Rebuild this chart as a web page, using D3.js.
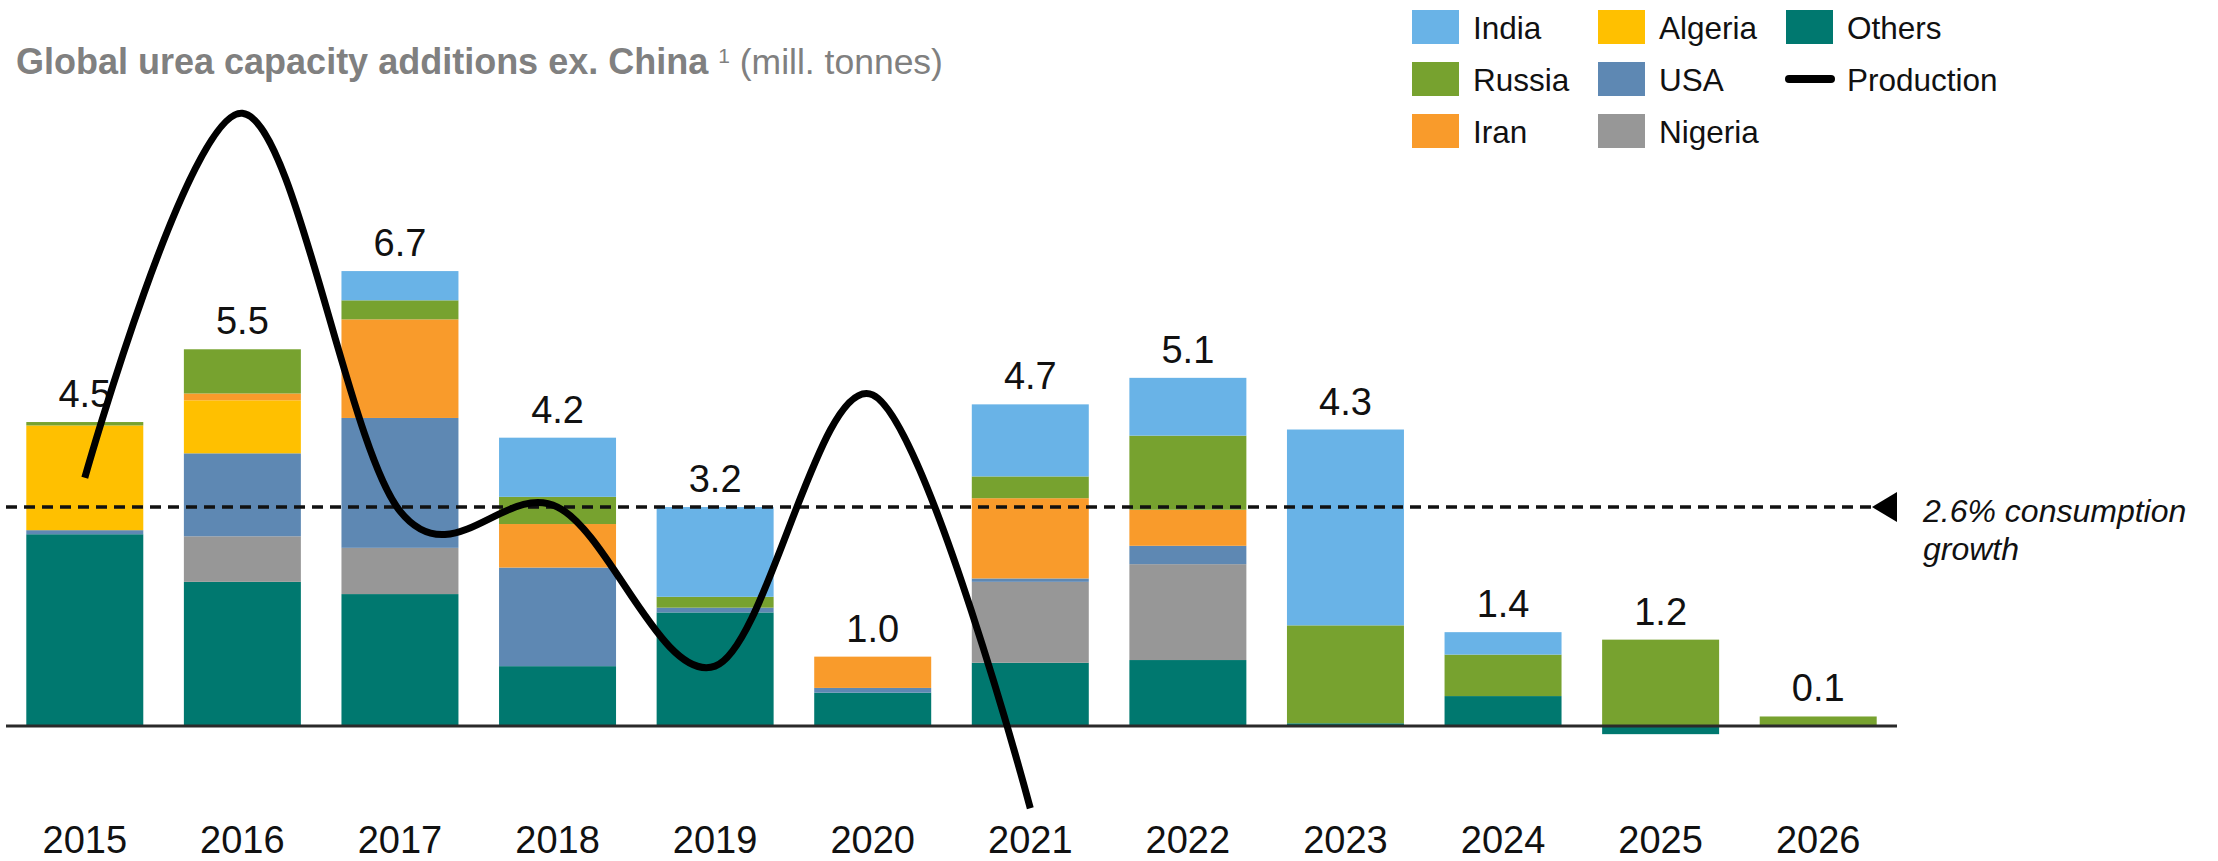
<!DOCTYPE html>
<html>
<head>
<meta charset="utf-8">
<script src="https://cdn.jsdelivr.net/npm/d3@7"></script>
<style>
  html, body { margin: 0; padding: 0; background: #ffffff; }
  svg { display: block; }
  text { font-family: "Liberation Sans", Arial, Helvetica, sans-serif; }
</style>
</head>
<body>
<svg id="chart" width="2218" height="861"></svg>
<script>
// ---------------- DATA ----------------
const years = ["2015","2016","2017","2018","2019","2020","2021","2022","2023","2024","2025","2026"];
// stack order bottom -> top
const seriesNames = ["Others","Nigeria","USA","Algeria","Iran","Russia","India"];
const others  = [2.82, 2.12, 1.94, 0.88, 1.67, 0.49, 0.93, 0.97, 0.04, 0.44, -0.12, 0.00];
const nigeria = [0.00, 0.67, 0.68, 0.00, 0.00, 0.00, 1.19, 1.41, 0.00, 0.00, 0.00, 0.00];
const usa     = [0.06, 1.22, 1.91, 1.45, 0.07, 0.07, 0.05, 0.27, 0.00, 0.00, 0.00, 0.00];
const algeria = [1.54, 0.78, 0.00, 0.00, 0.00, 0.00, 0.00, 0.00, 0.00, 0.00, 0.00, 0.00];
const iran    = [0.00, 0.10, 1.45, 0.64, 0.00, 0.46, 1.18, 0.53, 0.00, 0.00, 0.00, 0.00];
const russia  = [0.05, 0.65, 0.28, 0.40, 0.16, 0.00, 0.32, 1.09, 1.44, 0.61, 1.27, 0.14];
const india   = [0.00, 0.00, 0.43, 0.87, 1.32, 0.00, 1.06, 0.85, 2.88, 0.33, 0.00, 0.00];
const totalLabels = ["4.5","5.5","6.7","4.2","3.2","1.0","4.7","5.1","4.3","1.4","1.2","0.1"];

const productionYears  = ["2015","2016","2017","2018","2019","2020","2021"];
const productionValues = [3.65, 9.01, 3.16, 3.22, 0.88, 4.87, -1.21];

const consumptionGrowthLevel = 3.22;
const consumptionText = ["2.6% consumption", "growth"];

const titleBold = "Global urea capacity additions ex. China";
const titleSup = "1";
const titleRest = " (mill. tonnes)";

const legendItems = [
  {name:"India", type:"rect"}, {name:"Russia", type:"rect"}, {name:"Iran", type:"rect"},
  {name:"Algeria", type:"rect"}, {name:"USA", type:"rect"}, {name:"Nigeria", type:"rect"},
  {name:"Others", type:"rect"}, {name:"Production", type:"line"}
];

const colors = {
  India:"#69B3E7", Russia:"#77A22F", Iran:"#F99B2B", Algeria:"#FFC000",
  USA:"#5E88B3", Nigeria:"#979797", Others:"#00786F"
};

// ---------------- BUILD ----------------
const seriesValues = {Others:others, Nigeria:nigeria, USA:usa, Algeria:algeria, Iran:iran, Russia:russia, India:india};
const table = years.map((y,i) => {
  const row = {year:y};
  seriesNames.forEach(s => row[s] = seriesValues[s][i]);
  return row;
});

const svg = d3.select("#chart");

const x = d3.scaleBand().domain(years).range([6, 1897]).paddingInner(0.2576).paddingOuter(0.1288);
const y = d3.scaleLinear().domain([0, 1]).range([726, 658]);

const stack = d3.stack().keys(seriesNames).offset(d3.stackOffsetDiverging);
const stacked = stack(table);

// bars
const gBars = svg.append("g");
gBars.selectAll("g.series").data(stacked).join("g")
  .attr("class","series")
  .attr("fill", d => colors[d.key])
  .selectAll("rect").data(d => d.filter(p => Math.abs(p[1]-p[0]) > 1e-9)).join("rect")
    .attr("x", d => x(d.data.year))
    .attr("width", x.bandwidth())
    .attr("y", d => y(Math.max(d[0], d[1])))
    .attr("height", d => Math.abs(y(d[0]) - y(d[1])));

// baseline axis
svg.append("line")
  .attr("x1", x.range()[0]).attr("x2", x.range()[1])
  .attr("y1", y(0)).attr("y2", y(0))
  .attr("stroke", "#2a2a2a").attr("stroke-width", 3);

// dashed consumption growth line
const dashEnd = 1872;
svg.append("line")
  .attr("x1", x.range()[0]).attr("x2", dashEnd)
  .attr("y1", y(consumptionGrowthLevel)).attr("y2", y(consumptionGrowthLevel))
  .attr("stroke", "#111").attr("stroke-width", 3.5)
  .attr("stroke-dasharray", "11,7");
const ty = y(consumptionGrowthLevel);
svg.append("path")
  .attr("d", `M${dashEnd},${ty} L${dashEnd+25},${ty-15} L${dashEnd+25},${ty+15} Z`)
  .attr("fill", "#000");
svg.append("text")
  .attr("x", 1923).attr("y", ty + 15)
  .attr("font-size", 32).attr("font-style", "italic").attr("fill", "#111")
  .selectAll("tspan").data(consumptionText).join("tspan")
    .attr("x", 1923).attr("dy", (d,i) => i === 0 ? 0 : 38)
    .text(d => d);

// total labels
svg.append("g").selectAll("text").data(table).join("text")
  .attr("x", d => x(d.year) + x.bandwidth()/2)
  .attr("y", (d,i) => {
    const top = d3.sum(seriesNames, s => Math.max(0, d[s]));
    return y(top) - 15;
  })
  .attr("text-anchor", "middle")
  .attr("font-size", 38).attr("fill", "#111")
  .text((d,i) => totalLabels[i]);

// production line
const line = d3.line()
  .x((d,i) => x(productionYears[i]) + x.bandwidth()/2)
  .y(d => y(d))
  .curve(d3.curveCardinal.tension(0));
svg.append("path")
  .attr("d", line(productionValues))
  .attr("fill", "none").attr("stroke", "#000").attr("stroke-width", 7);

// year labels
svg.append("g").selectAll("text").data(years).join("text")
  .attr("x", d => x(d) + x.bandwidth()/2)
  .attr("y", 853)
  .attr("text-anchor", "middle")
  .attr("font-size", 38).attr("fill", "#111")
  .text(d => d);

// title
const title = svg.append("text").attr("x", 16).attr("y", 74).attr("fill", "#808080");
title.append("tspan").attr("font-size", 36).attr("font-weight", "bold").text(titleBold + " ");
title.append("tspan").attr("font-size", 21).attr("dy", -11).text(titleSup);
title.append("tspan").attr("font-size", 35.5).attr("dy", 11).text(titleRest);

// legend
const colX = [1412, 1598, 1786];
const rowY = [10, 62, 114];
const gLeg = svg.append("g");
legendItems.forEach((it, k) => {
  const c = Math.floor(k / 3), r = k % 3;
  const g = gLeg.append("g");
  if (it.type === "rect") {
    g.append("rect").attr("x", colX[c]).attr("y", rowY[r]).attr("width", 47).attr("height", 34)
      .attr("fill", colors[it.name]);
  } else {
    g.append("line").attr("x1", colX[c] + 3).attr("x2", colX[c] + 45)
      .attr("y1", rowY[r] + 17).attr("y2", rowY[r] + 17)
      .attr("stroke", "#000").attr("stroke-width", 8).attr("stroke-linecap", "round");
  }
  g.append("text").attr("x", colX[c] + 61).attr("y", rowY[r] + 29)
    .attr("font-size", 31.5).attr("fill", "#111").text(it.name);
});
</script>
</body>
</html>
